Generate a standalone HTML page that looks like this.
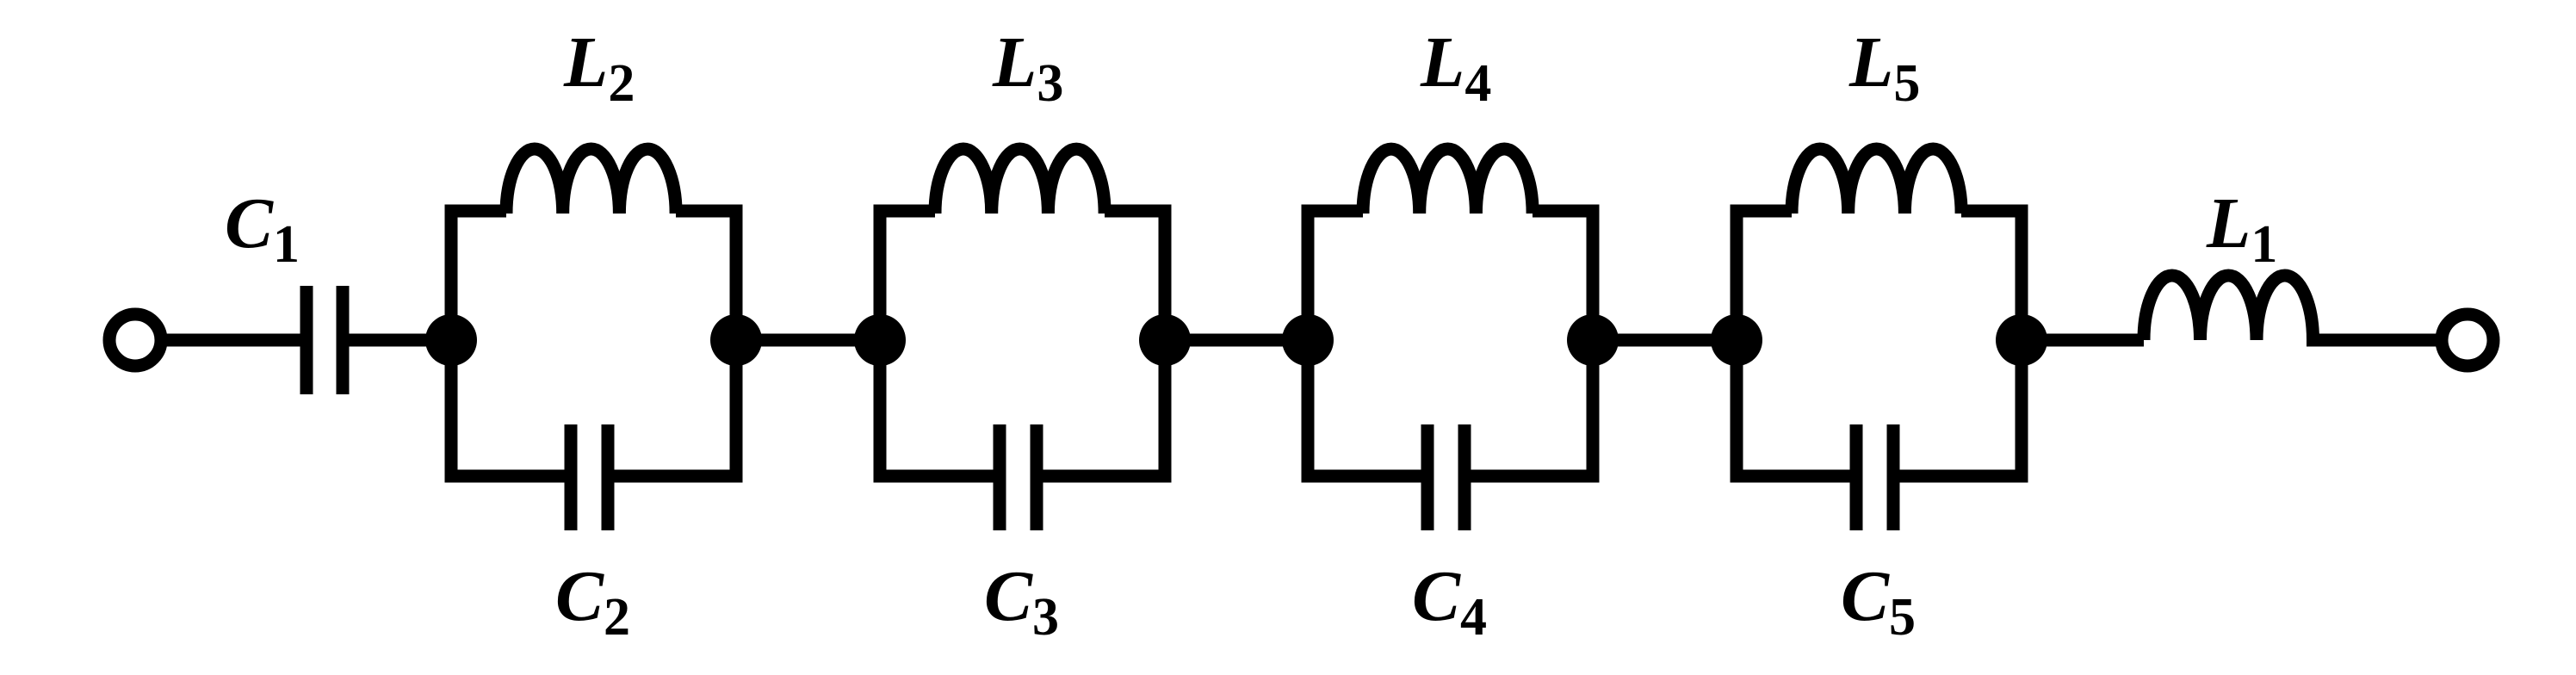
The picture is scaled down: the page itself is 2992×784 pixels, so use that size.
<!DOCTYPE html>
<html><head><meta charset="utf-8"><style>
html,body{margin:0;padding:0;background:#fff;}
svg{display:block;}
.lbl{font-family:"Liberation Serif",serif;font-weight:bold;font-style:italic;font-size:84px;fill:#000;}
.sub{font-family:"Liberation Serif",serif;font-weight:bold;font-style:normal;font-size:62px;fill:#000;}
</style></head><body>
<svg id="c" width="2992" height="784" viewBox="0 0 2992 784" xmlns="http://www.w3.org/2000/svg">
<g id="g" fill="none" stroke="#000" stroke-width="15"></g>
</svg>
<script>
const sectionX = [524, 1022, 1519, 2017];
const sectionIdx = ["2", "3", "4", "5"];
const NS = "http://www.w3.org/2000/svg";
const g = document.getElementById('g');
const svg = document.getElementById('c');
const Y = 395, TOP = 245, BOT = 553, W = 331;
function mk(tag, attrs, parent) {
  const e = document.createElementNS(NS, tag);
  for (const k in attrs) e.setAttribute(k, attrs[k]);
  (parent || g).appendChild(e);
  return e;
}
function coil(x0, w, base) {
  let d = "M" + x0 + " " + base;
  for (let i = 0; i < 3; i++) {
    d += " A" + (w / 2) + " 75 0 0 1 " + (x0 + (i + 1) * w) + " " + base;
  }
  return d;
}
function label(x, y, main, sub, name) {
  const t = mk('text', {x: x, y: y, class: 'lbl'}, svg);
  
  
  t.setAttribute('stroke', 'none');
  t.textContent = main;
  const s = mk('tspan', {class: 'sub', dy: 17}, t);
  s.textContent = sub;
}
let e = mk('circle', {cx: 157, cy: Y, r: 30});


e = mk('path', {d: "M187 " + Y + " H356 M356 332 V458 M398 332 V458 M398 " + Y + " H524"});


label(261, 287, "C", "1", "label-c1");
sectionX.forEach((x, i) => {
  const r = x + W;
  let p = mk('path', {d: "M" + (x + 64) + " " + TOP + " H" + x + " V" + BOT + " H" + (x + 133) +
    " M" + (x + 139) + " 493 V616 M" + (x + 182) + " 493 V616 M" + (x + 188) + " " + BOT + " H" + r +
    " V" + TOP + " H" + (x + 261)});
  
  
  p = mk('path', {d: coil(x + 64, 65.7, TOP + 3)});
  
  
  let n = mk('circle', {cx: x, cy: Y, r: 30, fill: '#000', stroke: 'none'});
  
  
  n = mk('circle', {cx: r, cy: Y, r: 30, fill: '#000', stroke: 'none'});
  
  
  if (i < sectionX.length - 1) {
    const w = mk('path', {d: "M" + r + " " + Y + " H" + sectionX[i + 1]});
    
    
  }
  label(x + 131, 100, "L", sectionIdx[i], "label-l" + sectionIdx[i]);
  label(x + 121, 720, "C", sectionIdx[i], "label-c" + sectionIdx[i]);
});
e = mk('path', {d: "M2348 " + Y + " H2490 " + coil(2490, 65.5, Y) + " H2836"});


e = mk('circle', {cx: 2866, cy: Y, r: 30});


label(2563, 287, "L", "1", "label-l1");
</script>
</body></html>
